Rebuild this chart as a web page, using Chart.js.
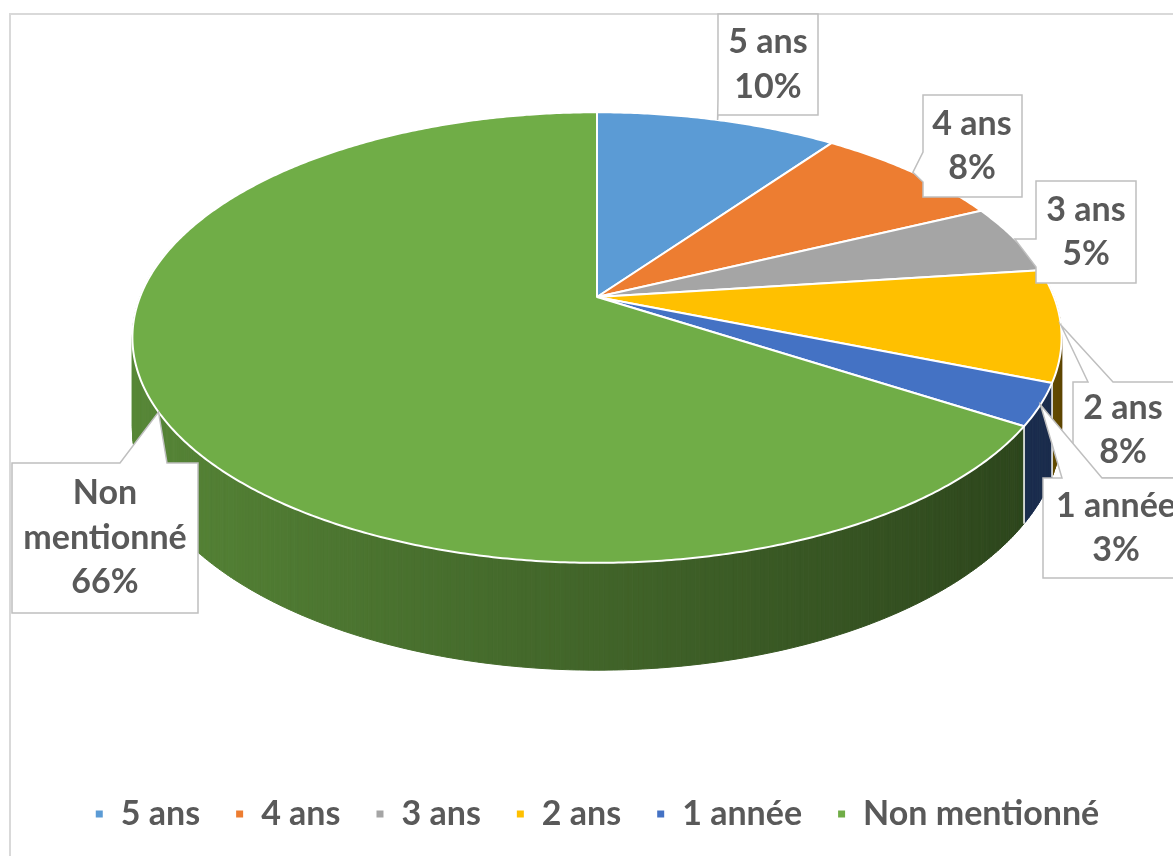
<!DOCTYPE html>
<html>
<head>
<meta charset="utf-8">
<script src="https://cdn.jsdelivr.net/npm/chart.js@4.4.1/dist/chart.umd.min.js"></script>
<style>
    html, body { margin: 0; padding: 0; background: #fff; overflow: hidden; }
    body { width: 1173px; height: 856px; position: relative; }
    .frame { position: absolute; left: 9px; top: 13px; width: 1200px; height: 900px; border: 2px solid #d9d9d9; box-sizing: border-box; }
    canvas { position: absolute; left: 0; top: 0; }
</style>
</head>
<body>
<div class="frame"></div>
<canvas id="pieChart" width="1173" height="856"></canvas>
<script>
const categories = ['5 ans', '4 ans', '3 ans', '2 ans', '1 année', 'Non mentionné'];
const shares = [10, 8, 5, 8, 3, 66];
const colors = ['#5B9BD5', '#ED7D31', '#A5A5A5', '#FFC000', '#4472C4', '#70AD47'];

// callout boxes, in the same order as categories
const callouts = [
    { x: 718, y: 14, w: 100, h: 101, side: 'left', b1: 98, b2: 115, tx: 768 },
    { x: 923, y: 95, w: 99, h: 102, side: 'left', b1: 152, b2: 182, tx: 972 },
    { x: 1036, y: 181, w: 100, h: 102, side: 'left', b1: 239, b2: 267, tx: 1086 },
    { x: 1073, y: 382, w: 130, h: 96, side: 'top', b1: 1088, b2: 1113, tx: 1123 },
    { x: 1043, y: 478, w: 150, h: 100, side: 'top', b1: 1062, b2: 1102, tx: 1116 },
    { x: 12, y: 463, w: 186, h: 150, side: 'top', b1: 120, b2: 167, tx: 105 }
];

const FONT = "'Lato', 'DejaVu Sans', sans-serif";
const TEXT_COLOR = '#595959';

// rough perspective for the tilted disc
const CY = 297, RX = 457, RY = 218, K = -0.18, DEPTH = 88;

function project(cx, angle, h) {
    const u = Math.cos(angle), v = Math.sin(angle);
    const w = 1 + K * v;
    return [cx + RX * u / w, CY + (RY * v + DEPTH * h) / w];
}

function shade(hex, f) {
    const n = parseInt(hex.slice(1), 16);
    const r = Math.round(((n >> 16) & 255) * f);
    const g = Math.round(((n >> 8) & 255) * f);
    const b = Math.round((n & 255) * f);
    return `rgb(${r},${g},${b})`;
}

const pie3d = {
    id: 'pie3d',
    beforeDatasetsDraw(chart) {
        const ctx = chart.ctx;
        const arcs = chart.getDatasetMeta(0).data;
        const cx = arcs[0].x;
        const step = Math.PI / 360;

        // side wall, far pieces first
        const quads = [];
        arcs.forEach((arc, i) => {
            const s = arc.startAngle, e = arc.endAngle;
            const n = Math.max(2, Math.ceil((e - s) / step));
            for (let j = 0; j < n; j++) {
                const a0 = s + (e - s) * j / n;
                const a1 = s + (e - s) * (j + 1) / n;
                const am = (a0 + a1) / 2;
                if (Math.sin(am) < -0.3) continue;
                quads.push({ a0, a1, depth: Math.sin(am), color: shade(colors[i], 0.58 - 0.21 * Math.cos(am)) });
            }
        });
        quads.sort((p, q) => p.depth - q.depth);
        ctx.save();
        ctx.lineWidth = 1;
        quads.forEach(q => {
            const p0 = project(cx, q.a0, 0), p1 = project(cx, q.a1, 0);
            const p2 = project(cx, q.a1, 1), p3 = project(cx, q.a0, 1);
            ctx.beginPath();
            ctx.moveTo(p0[0], p0[1]);
            ctx.lineTo(p1[0], p1[1]);
            ctx.lineTo(p2[0], p2[1]);
            ctx.lineTo(p3[0], p3[1]);
            ctx.closePath();
            ctx.fillStyle = q.color;
            ctx.strokeStyle = q.color;
            ctx.fill();
            ctx.stroke();
        });

        // white seams between slices on the wall
        ctx.strokeStyle = '#ffffff';
        ctx.lineWidth = 1.5;
        arcs.forEach(arc => {
            const a = arc.startAngle;
            if (Math.sin(a) < 0.15) return;
            const t = project(cx, a, 0), b = project(cx, a, 1);
            ctx.beginPath();
            ctx.moveTo(t[0], t[1]);
            ctx.lineTo(b[0], b[1]);
            ctx.stroke();
        });

        // top face
        ctx.lineWidth = 2;
        ctx.lineJoin = 'round';
        arcs.forEach((arc, i) => {
            const s = arc.startAngle, e = arc.endAngle;
            const n = Math.max(2, Math.ceil((e - s) / step));
            ctx.beginPath();
            ctx.moveTo(cx, CY);
            for (let j = 0; j <= n; j++) {
                const p = project(cx, s + (e - s) * j / n, 0);
                ctx.lineTo(p[0], p[1]);
            }
            ctx.closePath();
            ctx.fillStyle = colors[i];
            ctx.fill();
            ctx.strokeStyle = '#ffffff';
            ctx.stroke();
        });
        ctx.restore();
        return false;
    },
    afterDraw(chart) {
        const ctx = chart.ctx;
        const arcs = chart.getDatasetMeta(0).data;
        const cx = arcs[0].x;
        const total = shares.reduce((a, b) => a + b, 0);
        ctx.save();
        ctx.font = `bold 34px ${FONT}`;
        arcs.forEach((arc, i) => {
            const c = callouts[i];
            const tip = project(cx, (arc.startAngle + arc.endAngle) / 2, 0);
            ctx.beginPath();
            if (c.side === 'left') {
                ctx.moveTo(c.x, c.y);
                ctx.lineTo(c.x + c.w, c.y);
                ctx.lineTo(c.x + c.w, c.y + c.h);
                ctx.lineTo(c.x, c.y + c.h);
                ctx.lineTo(c.x, c.b2);
                ctx.lineTo(tip[0], tip[1]);
                ctx.lineTo(c.x, c.b1);
            } else {
                ctx.moveTo(c.x, c.y);
                ctx.lineTo(c.b1, c.y);
                ctx.lineTo(tip[0], tip[1]);
                ctx.lineTo(c.b2, c.y);
                ctx.lineTo(c.x + c.w, c.y);
                ctx.lineTo(c.x + c.w, c.y + c.h);
                ctx.lineTo(c.x, c.y + c.h);
            }
            ctx.closePath();
            ctx.fillStyle = '#ffffff';
            ctx.fill();
            ctx.strokeStyle = '#bfbfbf';
            ctx.lineWidth = 1.5;
            ctx.stroke();

            // wrap the category name when it does not fit
            const name = categories[i];
            let lines = [name];
            if (ctx.measureText(name).width > c.w - 10 && name.includes(' ')) {
                lines = name.split(' ');
            }
            lines.push(Math.round(shares[i] / total * 100) + '%');
            const lh = 44.5;
            const top = c.y + c.h / 2 - lh * (lines.length - 1) / 2;
            ctx.fillStyle = TEXT_COLOR;
            ctx.textAlign = 'center';
            ctx.textBaseline = 'middle';
            lines.forEach((ln, k) => ctx.fillText(ln, c.tx, top + k * lh));
        });
        ctx.restore();
    }
};

new Chart(document.getElementById('pieChart'), {
    type: 'pie',
    data: {
        labels: categories,
        datasets: [{
            data: shares,
            backgroundColor: colors,
            borderColor: '#ffffff',
            borderWidth: 2
        }]
    },
    options: {
        responsive: false,
        animation: false,
        layout: { padding: { left: 21, right: 0, top: 0, bottom: 15 } },
        plugins: {
            legend: {
                position: 'bottom',
                labels: {
                    boxWidth: 9,
                    boxHeight: 9,
                    padding: 35,
                    color: TEXT_COLOR,
                    font: { family: FONT, size: 34, weight: 'bold' }
                }
            },
            tooltip: { enabled: false }
        }
    },
    plugins: [pie3d]
});
</script>
</body>
</html>
